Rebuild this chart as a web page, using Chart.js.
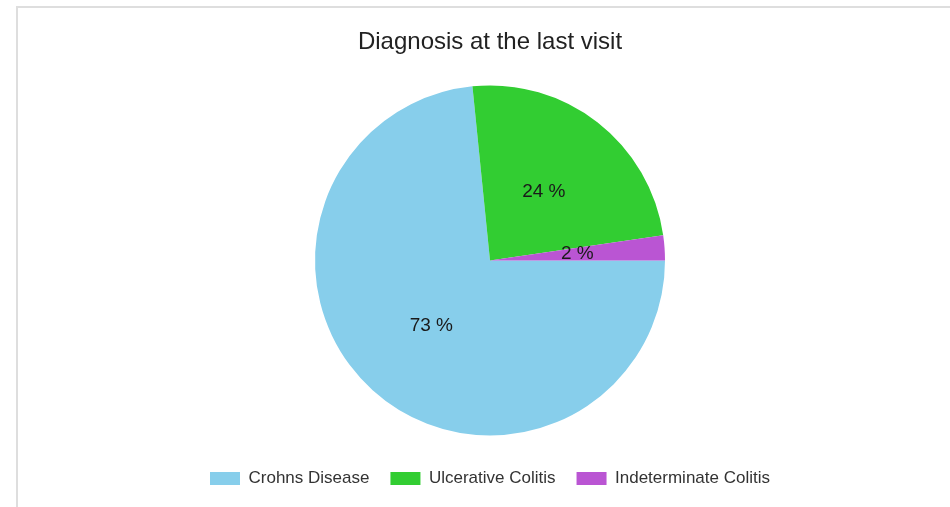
<!DOCTYPE html>
<html>
<head>
<meta charset="utf-8">
<script src="https://cdn.jsdelivr.net/npm/chart.js@4/dist/chart.umd.min.js"></script>
<style>
  html, body { margin: 0; padding: 0; background: #fff; overflow: hidden; }
  #frame {
    position: absolute; left: 16px; top: 6px; width: 960px; height: 520px;
    border-top: 2px solid #dedede; border-left: 2px solid #dedede;
  }
  #wrap { position: absolute; left: 0; top: 0; width: 944px; height: 499px; }
</style>
</head>
<body>
<div id="frame"><div id="wrap"><canvas id="pieChart"></canvas></div></div>
<script>
// chart data
var categories = ['Crohns Disease', 'Ulcerative Colitis', 'Indeterminate Colitis'];
var percents = [73.4, 24.3, 2.3];
var sliceLabels = ['73 %', '24 %', '2 %'];
var sliceColors = ['#87ceeb', '#32cd32', '#ba55d3'];

// writes the percentage in the middle of each slice
var sliceText = {
    id: 'sliceText',
    afterDatasetsDraw: function(chart) {
        var ctx = chart.ctx;
        var meta = chart.getDatasetMeta(0);
        ctx.save();
        ctx.font = '19px "Liberation Sans", Arial, sans-serif';
        ctx.fillStyle = '#1a1a1a';
        ctx.textAlign = 'center';
        ctx.textBaseline = 'middle';
        meta.data.forEach(function(arc, i) {
            var mid = (arc.startAngle + arc.endAngle) / 2;
            var r = arc.outerRadius / 2;
            ctx.fillText(sliceLabels[i], arc.x + Math.cos(mid) * r, arc.y + Math.sin(mid) * r);
        });
        ctx.restore();
    }
};

document.addEventListener('DOMContentLoaded', function() {
    var ctx = document.getElementById('pieChart').getContext('2d');
    new Chart(ctx, {
        type: 'pie',
        data: {
            labels: categories,
            datasets: [{
                data: percents,
                backgroundColor: sliceColors,
                borderWidth: 0,
                radius: 175
            }]
        },
        options: {
            responsive: true,
            maintainAspectRatio: false,
            animation: false,
            rotation: 90,
            layout: { padding: { top: 0, bottom: 10 } },
            plugins: {
                title: {
                    display: true,
                    text: 'Diagnosis at the last visit',
                    color: '#222',
                    font: { family: '"Liberation Sans", Arial, sans-serif', size: 24, weight: 'normal' },
                    padding: { top: 20, bottom: 15 }
                },
                legend: {
                    position: 'bottom',
                    labels: {
                        boxWidth: 30,
                        boxHeight: 13,
                        color: '#333',
                        padding: 21,
                        font: { family: '"Liberation Sans", Arial, sans-serif', size: 17 }
                    }
                },
                tooltip: { enabled: false }
            }
        },
        plugins: [sliceText]
    });
});
</script>
</body>
</html>
